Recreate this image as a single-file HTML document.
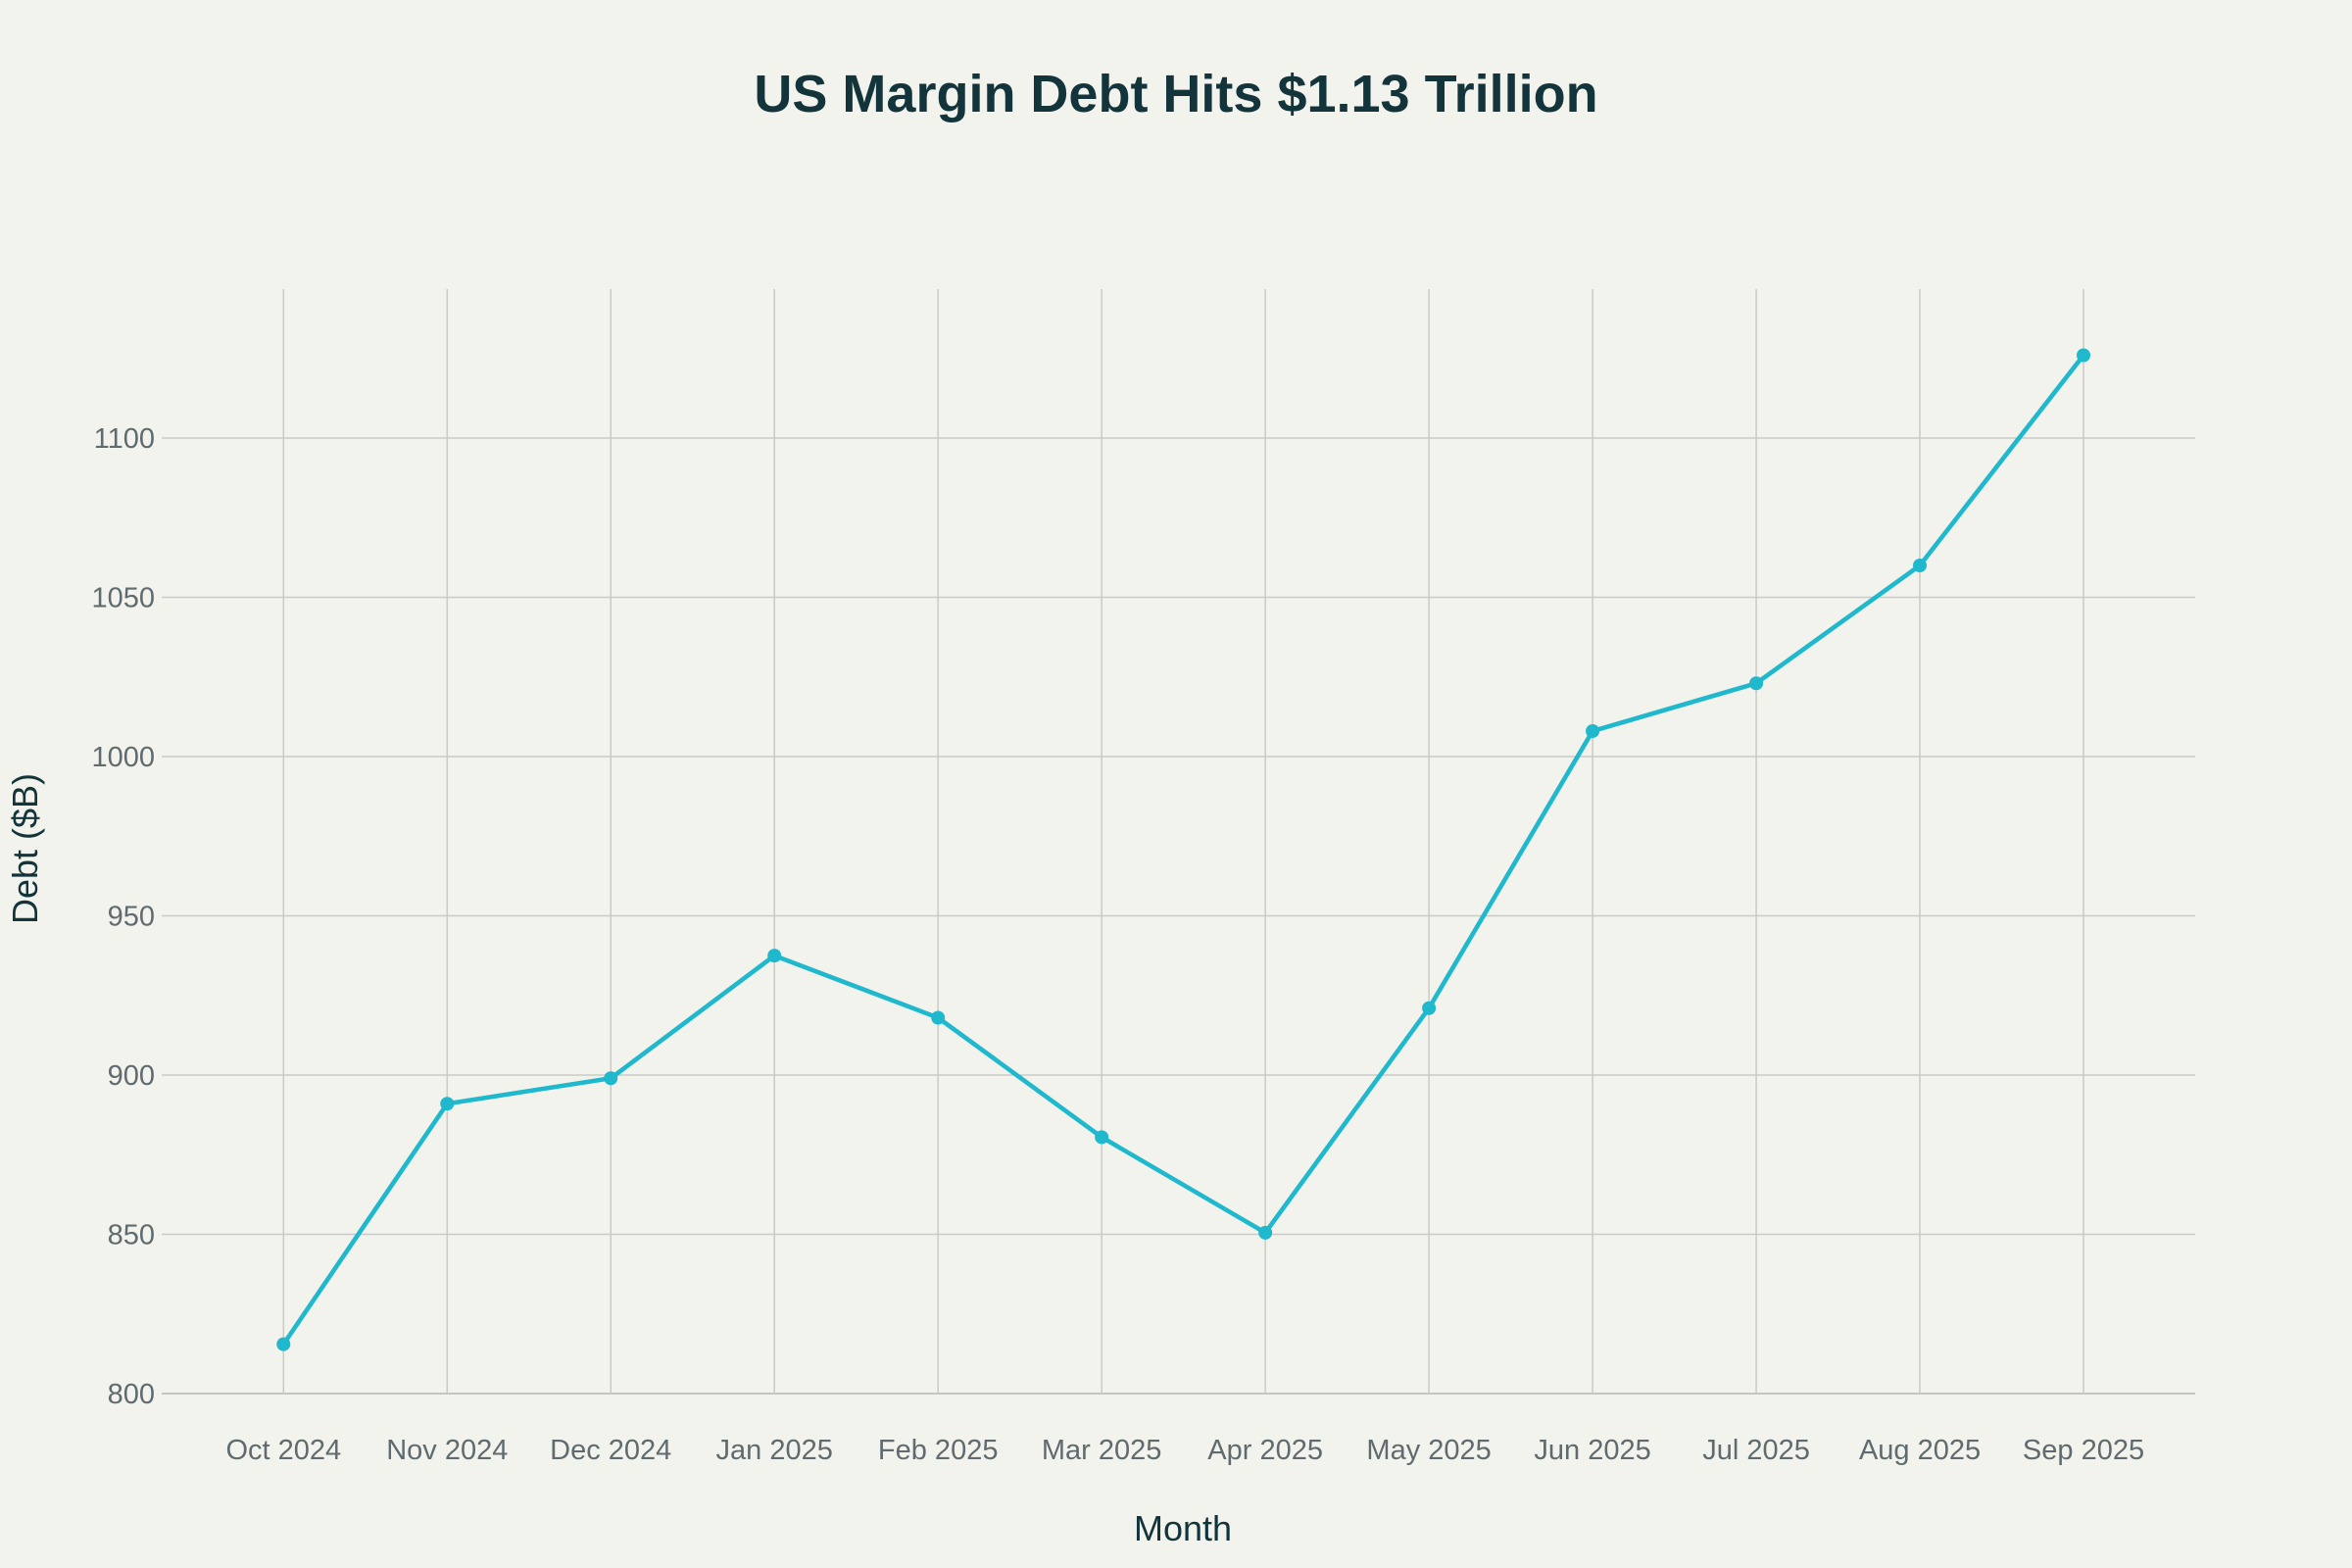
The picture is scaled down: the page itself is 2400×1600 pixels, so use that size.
<!DOCTYPE html>
<html><head><meta charset="utf-8">
<style>
html,body{margin:0;padding:0;background:#f3f3ee;}
svg{display:block;font-family:"Liberation Sans",sans-serif;}
</style></head>
<body>
<svg id="chart" width="2400" height="1600" viewBox="0 0 2400 1600" xmlns="http://www.w3.org/2000/svg">
<rect x="0" y="0" width="2400" height="1600" fill="#f3f3ee"/>
<text x="1200" y="114" text-anchor="middle" font-size="54" font-weight="bold" fill="#13343b">US Margin Debt Hits $1.13 Trillion</text>
<g id="grid"></g>
<g id="yticks"></g>
<g id="xticks"></g>
<g id="series"></g>
<text x="1207" y="1572" text-anchor="middle" font-size="36" fill="#13343b">Month</text>
<text x="38" y="866" text-anchor="middle" font-size="36" fill="#13343b" transform="rotate(-90 38 866)">Debt ($B)</text>
</svg>
<script>
const categories = ["Oct 2024","Nov 2024","Dec 2024","Jan 2025","Feb 2025","Mar 2025","Apr 2025","May 2025","Jun 2025","Jul 2025","Aug 2025","Sep 2025"];
const debtValues = [815.5, 891, 899, 937.5, 918, 880.5, 850.5, 921, 1008, 1023, 1060, 1126];
const yTickValues = [800, 850, 900, 950, 1000, 1050, 1100];

const NS = "http://www.w3.org/2000/svg";
const plotLeft = 165, plotRight = 2240, plotTop = 295, plotBottom = 1422;
const x0 = 289.3, x1 = 2126;
function xScale(i){ return x0 + (x1 - x0) * i / (categories.length - 1); }
function yScale(v){ return 1422 - (v - 800) * (1422 - 447) / 300; }
function mk(tag, attrs){ const e = document.createElementNS(NS, tag); for (const k in attrs) e.setAttribute(k, attrs[k]); return e; }

const grid = document.getElementById("grid");
const yt = document.getElementById("yticks");
const xt = document.getElementById("xticks");
const ser = document.getElementById("series");

yTickValues.forEach(v => {
  const y = yScale(v);
  const l = mk("line", {x1: plotLeft, x2: plotRight, y1: y, y2: y, stroke: v === 800 ? "#b5b5b0" : "#cacac5", "stroke-width": 1.5});
  
  
  grid.appendChild(l);
  const t = mk("text", {x: 158, y: y + 10, "text-anchor": "end", "font-size": 29, fill: "#5f6b6e"});
  t.textContent = v;
  
  
  yt.appendChild(t);
});

categories.forEach((c, i) => {
  const x = xScale(i);
  const l = mk("line", {x1: x, x2: x, y1: plotTop, y2: plotBottom, stroke: "#cacac5", "stroke-width": 1.5});
  
  
  grid.appendChild(l);
  const t = mk("text", {x: x, y: 1489, "text-anchor": "middle", "font-size": 29, fill: "#5f6b6e"});
  t.textContent = c;
  
  
  xt.appendChild(t);
});

const pts = debtValues.map((v, i) => xScale(i) + "," + yScale(v)).join(" ");
const line = mk("polyline", {points: pts, fill: "none", stroke: "#1fb8cd", "stroke-width": 4.6, "stroke-linejoin": "round"});


ser.appendChild(line);
debtValues.forEach((v, i) => {
  const c = mk("circle", {cx: xScale(i), cy: yScale(v), r: 7, fill: "#1fb8cd"});
  
  
  ser.appendChild(c);
});
</script>
</body></html>
